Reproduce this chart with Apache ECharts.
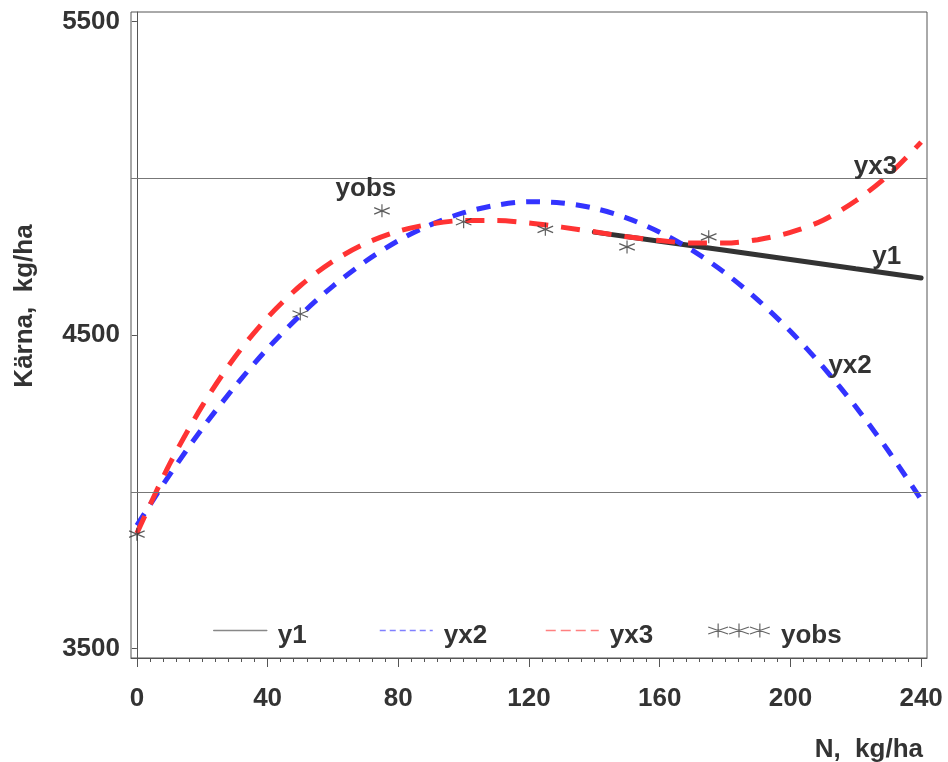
<!DOCTYPE html>
<html>
<head>
<meta charset="utf-8">
<script src="https://cdn.jsdelivr.net/npm/echarts@6/dist/echarts.min.js"></script>
<style>html,body{margin:0;padding:0;background:#fff}#c{width:948px;height:762px}</style>
</head>
<body>
<div id="c"></div>
<script>
// ---- data ----
const nGrid = [0,10,20,30,40,50,60,70,80,90,100,110,120,130,140,150,160,170,180,190,200,210,220,230,240];
const yx2 = [3893,4054,4202,4336,4457,4563,4656,4735,4801,4852,4890,4914,4925,4921,4904,4873,4828,4770,4698,4612,4512,4398,4271,4130,3975];
const yx3 = [3868,4088,4274,4430,4556,4657,4735,4792,4831,4854,4865,4865,4857,4844,4829,4813,4801,4793,4793,4804,4827,4866,4928,5010,5115];
const y1N = [140,160,180,200,220,240];
const y1 = [4828,4799,4770,4741,4711,4682];
const obsN = [0,50,75,100,125,150,175];
const obs = [3865,4567,4896,4861,4837,4781,4813];
const xTickLabels = [0,40,80,120,160,200,240];
const yTickLabels = [3500,4500,5500];
const refLines = [4000,5000];

const FONT = "'Liberation Sans', Arial, Helvetica, sans-serif";
const TXT = '#333333';

// asterisk symbol geometry
function starPath(ox, t) {
  const p = [];
  const poly = pts => 'M' + pts.map(q => (q[0]+ox).toFixed(2)+' '+q[1].toFixed(2)).join(' L') + ' Z';
  p.push(poly([[10-t,0],[10-t,16],[10+t,16],[10+t,0]]));
  const ux = 20/Math.hypot(20,8), uy = 8/Math.hypot(20,8);
  const px = -uy*t, py = ux*t;
  p.push(poly([[0+px,4+py],[20+px,12+py],[20-px,12-py],[0-px,4-py]]));
  const qx = uy*t, qy = ux*t;
  p.push(poly([[0+qx,12+qy],[20+qx,4+qy],[20-qx,4-qy],[0-qx,12-qy]]));
  return p.join(' ');
}
const starSym = 'path://' + starPath(0, 0.75);
const star3Sym = 'path://' + starPath(0,0.6) + ' ' + starPath(21,0.6) + ' ' + starPath(42,0.6);

const minorTicks = [];
for (let v = 0; v <= 240; v += 4) minorTicks.push(v);

const labelStyle = {fontSize: 26, fontWeight: 'bold', color: TXT, fontFamily: FONT};

function mp(name, coord, offset) {
  return {
    symbol: 'circle', symbolSize: 0, silent: true,
    itemStyle: {color: 'transparent'},
    label: Object.assign({show: true, position: 'inside'}, labelStyle),
    data: [{name: name, coord: coord, label: {formatter: name, offset: offset}}]
  };
}

const hiddenSymbol = {color: 'transparent', borderColor: 'transparent', borderWidth: 0, opacity: 0};

function legendFor(name, left, extra) {
  return Object.assign({
    data: [name], left: left, top: 623, padding: 0, orient: 'horizontal',
    itemWidth: 53, itemHeight: 14, selectedMode: false,
    itemStyle: hiddenSymbol,
    formatter: n => '{a|' + n + '}',
    textStyle: Object.assign({padding: [0,0,0,6], rich: {a: Object.assign({padding: [11,0,0,0]}, labelStyle)}}, labelStyle)
  }, extra);
}

const chart = echarts.init(document.getElementById('c'), null, {renderer: 'canvas'});
chart.setOption({
  animation: false,
  backgroundColor: '#ffffff',
  grid: {left: 131, right: 21, top: 12, bottom: 104, show: true, borderColor: '#555', borderWidth: 1, outerBoundsMode: 'none', containLabel: false},
  xAxis: [{
    type: 'value', min: -1.8, max: 241.8, position: 'bottom',
    name: 'N,  kg/ha', nameLocation: 'end', nameGap: -4, nameMoveOverlap: false,
    nameTextStyle: Object.assign({align: 'right', verticalAlign: 'top', padding: [79,0,0,0]}, labelStyle),
    axisLine: {show: true, lineStyle: {color: '#555', width: 1}},
    axisTick: {show: true, length: 9, lineStyle: {color: '#555'}, customValues: xTickLabels},
    axisLabel: Object.assign({show: true, margin: 28, customValues: xTickLabels, formatter: v => String(v)}, labelStyle),
    splitLine: {show: false}, minorTick: {show: false}
  }, {
    type: 'value', min: -1.8, max: 241.8, position: 'bottom',
    axisLine: {show: false},
    axisTick: {show: true, length: 4, lineStyle: {color: '#555'}, customValues: minorTicks},
    axisLabel: {show: false}, splitLine: {show: false}
  }],
  yAxis: {
    type: 'value', min: 3470, max: 5530,
    name: 'Kärna,  kg/ha', nameLocation: 'middle', nameGap: 106, nameRotate: 90, nameMoveOverlap: false,
    nameTextStyle: Object.assign({verticalAlign: 'middle', align: 'center', padding: [0,0,0,58]}, labelStyle),
    axisLine: {show: true, lineStyle: {color: '#555', width: 1}},
    axisTick: {show: true, length: 5, lineStyle: {color: '#555'}, customValues: yTickLabels},
    axisLabel: Object.assign({show: true, margin: 11, customValues: yTickLabels, formatter: v => String(v)}, labelStyle),
    splitLine: {show: false}
  },
  legend: [
    legendFor('y1', 213, {lineStyle: {color: '#888', width: 1.5, type: 'solid'}}),
    legendFor('yx2', 379, {lineStyle: {color: '#8080ff', width: 1.5, type: [6,4]}}),
    legendFor('yx3', 545, {lineStyle: {color: '#ff8080', width: 1.5, type: [10,5]}}),
    legendFor('yobs', 708, {icon: star3Sym, itemWidth: 62, itemHeight: 14, symbolKeepAspect: false, itemStyle: {color: '#666', opacity: 1}})
  ],
  series: [
    {
      name: 'y1', type: 'line', symbol: 'none', z: 2,
      data: y1N.map((n, i) => [n, y1[i]]),
      lineStyle: {color: '#333', width: 5, cap: 'round'}, itemStyle: {color: '#333'},
      markLine: {
        silent: true, symbol: ['none','none'], label: {show: false},
        lineStyle: {color: '#777', type: 'solid', width: 1},
        data: refLines.map(v => ({yAxis: v}))
      },
      markPoint: mp('y1', [y1N[4], y1[4]], [31,-12])
    },
    {
      name: 'yx2', type: 'line', symbol: 'none', smooth: 0.3, z: 3,
      data: nGrid.map((n, i) => [n, yx2[i]]),
      lineStyle: {color: '#3333ff', width: 5, type: [14,11], cap: 'butt'}, itemStyle: {color: '#3333ff'},
      markPoint: mp('yx2', [nGrid[21], yx2[21]], [27,-1])
    },
    {
      name: 'yx3', type: 'line', symbol: 'none', smooth: 0.3, z: 4,
      data: nGrid.map((n, i) => [n, yx3[i]]),
      lineStyle: {color: '#ff3333', width: 5, type: [19,13], cap: 'butt'}, itemStyle: {color: '#ff3333'},
      markPoint: mp('yx3', [nGrid[23], yx3[23]], [-13,-8])
    },
    {
      name: 'yobs', type: 'scatter', z: 5,
      symbol: starSym, symbolSize: [16,13],
      data: obsN.map((n, i) => [n, obs[i]]),
      itemStyle: {color: '#333'},
      markPoint: mp('yobs', [obsN[2], obs[2]], [-16,-22])
    }
  ]
});
</script>
</body>
</html>
